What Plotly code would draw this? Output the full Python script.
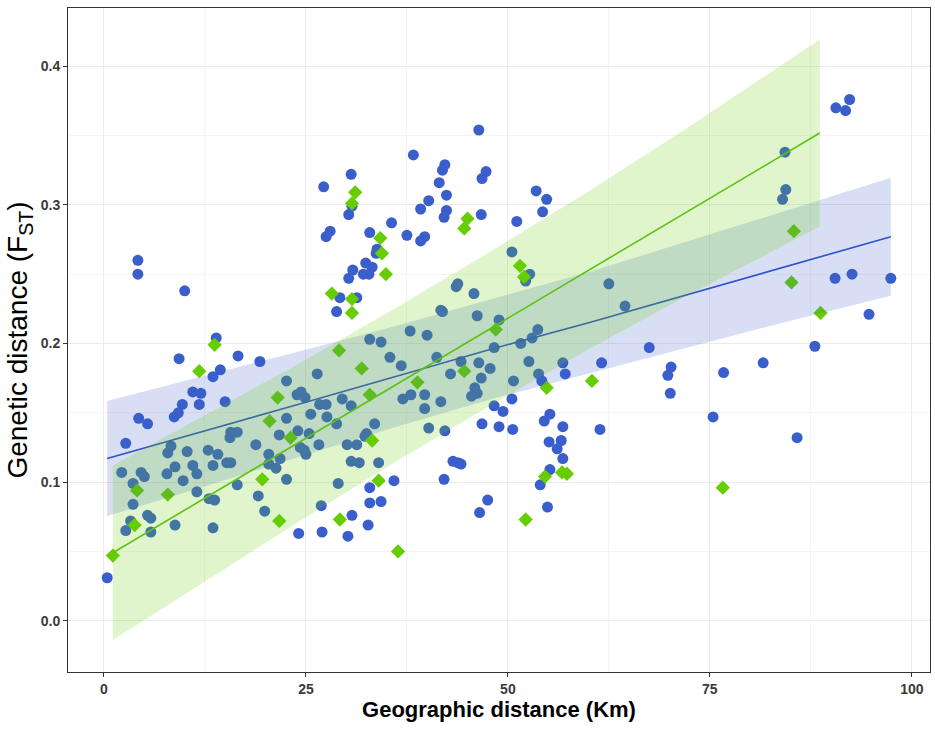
import plotly.graph_objects as go

# ---- data ----
blue_x = [0.4, 2.2, 2.7, 2.7, 3.3, 3.6, 3.6, 4.2, 4.2, 4.3, 4.6, 5.0, 5.4, 5.4, 5.8, 5.8,
          7.8, 7.9, 8.3, 8.7, 8.8, 8.8, 9.2, 9.3, 9.7, 9.8, 10.0, 10.3, 11.0, 11.0, 11.5, 11.5,
          11.8, 12.0, 12.9, 13.0, 13.5, 13.5, 13.5, 13.7, 13.9, 14.1, 14.4, 15.0, 15.2, 15.6,
          15.7, 15.7, 16.5, 16.5, 16.6, 18.8, 19.1, 19.3, 19.9, 20.4, 20.4, 21.3, 21.7, 21.8,
          22.6, 22.6, 22.6, 23.9, 24.0, 24.1, 24.3, 24.4, 24.8, 24.9, 25.0, 25.4, 25.6, 26.4,
          26.6, 26.7, 26.9, 27.0, 27.2, 27.5, 27.5, 27.6, 28.0, 28.8, 28.8, 29.0, 29.2, 29.5,
          30.1, 30.2, 30.3, 30.3, 30.6, 30.6, 30.6, 30.7, 30.7, 30.8, 31.3, 31.3, 31.6, 32.1,
          32.3, 32.4, 32.5, 32.7, 32.8, 32.9, 32.9, 32.9, 32.9, 33.2, 33.5, 33.7, 33.8, 34.0,
          34.3, 34.3, 35.4, 35.6, 35.9, 36.8, 37.0, 37.5, 37.9, 38.0, 38.3, 39.2, 39.2, 39.7,
          39.7, 39.7, 40.0, 40.2, 40.2, 41.2, 41.5, 41.7, 41.7, 41.9, 41.9, 42.1, 42.1, 42.2,
          42.2, 42.4, 42.4, 42.9, 43.2, 43.6, 43.8, 43.8, 44.2, 44.2, 45.5, 45.8, 45.9, 46.2,
          46.2, 46.4, 46.4, 46.5, 46.7, 46.7, 46.8, 46.8, 47.3, 47.5, 47.8, 48.3, 48.3, 48.9,
          48.9, 49.4, 50.5, 50.5, 50.6, 50.7, 51.1, 51.6, 52.2, 52.6, 52.7, 53.0, 53.5, 53.7,
          53.8, 54.0, 54.2, 54.3, 54.5, 54.8, 54.9, 55.1, 55.2, 55.2, 56.1, 56.6, 56.8, 56.8,
          56.8, 57.1, 61.4, 61.6, 62.5, 64.5, 67.5, 69.8, 70.1, 70.2, 75.4, 76.7, 81.6, 84.0,
          84.3, 84.4, 85.8, 88.0, 90.5, 90.6, 91.8, 92.3, 92.6, 94.7, 97.4]
blue_y = [0.031, 0.107, 0.128, 0.065, 0.072, 0.099, 0.084, 0.260, 0.250, 0.146, 0.107, 0.104,
          0.142, 0.076, 0.074, 0.064, 0.106, 0.121, 0.126, 0.147, 0.111, 0.069, 0.150, 0.189,
          0.156, 0.101, 0.238, 0.122, 0.165, 0.112, 0.106, 0.093, 0.156, 0.164, 0.123, 0.088,
          0.176, 0.112, 0.067, 0.087, 0.204, 0.120, 0.181, 0.158, 0.114, 0.132, 0.136, 0.114,
          0.136, 0.098, 0.191, 0.127, 0.090, 0.187, 0.079, 0.120, 0.113, 0.110, 0.134, 0.117,
          0.173, 0.146, 0.102, 0.163, 0.137, 0.063, 0.125, 0.165, 0.123, 0.161, 0.120, 0.135,
          0.149, 0.178, 0.127, 0.156, 0.083, 0.064, 0.313, 0.277, 0.156, 0.147, 0.281, 0.223,
          0.142, 0.099, 0.233, 0.160, 0.127, 0.061, 0.293, 0.247, 0.322, 0.155, 0.115, 0.299,
          0.076, 0.253, 0.233, 0.127, 0.114, 0.250, 0.133, 0.258, 0.135, 0.069, 0.250, 0.280,
          0.203, 0.096, 0.085, 0.255, 0.142, 0.265, 0.268, 0.114, 0.201, 0.086, 0.190, 0.287,
          0.101, 0.184, 0.160, 0.278, 0.209, 0.163, 0.336, 0.297, 0.274, 0.277, 0.163, 0.153,
          0.206, 0.303, 0.139, 0.190, 0.316, 0.224, 0.158, 0.325, 0.223, 0.291, 0.102, 0.329,
          0.137, 0.307, 0.296, 0.178, 0.115, 0.241, 0.243, 0.114, 0.187, 0.113, 0.162, 0.236,
          0.168, 0.220, 0.164, 0.354, 0.186, 0.078, 0.293, 0.175, 0.319, 0.142, 0.324, 0.087,
          0.182, 0.197, 0.155, 0.217, 0.140, 0.151, 0.266, 0.160, 0.138, 0.173, 0.288, 0.200,
          0.245, 0.187, 0.250, 0.204, 0.310, 0.210, 0.178, 0.098, 0.173, 0.295, 0.144, 0.304,
          0.082, 0.129, 0.149, 0.109, 0.124, 0.130, 0.186, 0.140, 0.117, 0.178, 0.138, 0.186,
          0.243, 0.227, 0.197, 0.177, 0.164, 0.183, 0.147, 0.179, 0.186, 0.304, 0.338, 0.311,
          0.132, 0.198, 0.247, 0.370, 0.368, 0.376, 0.250, 0.221, 0.247]

green_x = [1.1, 3.8, 4.1, 7.9, 11.8, 13.7, 19.6, 20.5, 21.5, 21.7, 23.1, 28.2, 29.1, 29.2,
           30.7, 30.7, 30.7, 31.1, 31.9, 32.9, 33.2, 34.0, 34.2, 34.4, 34.9, 36.4, 38.8, 44.6,
           44.6, 45.0, 48.5, 51.5, 52.0, 52.2, 54.6, 54.8, 56.7, 57.3, 60.4, 76.6, 85.1, 85.4, 88.7]
green_y = [0.047, 0.069, 0.094, 0.091, 0.180, 0.199, 0.102, 0.144, 0.161, 0.072, 0.132, 0.236,
           0.195, 0.073, 0.232, 0.222, 0.301, 0.309, 0.182, 0.163, 0.130, 0.101, 0.276, 0.265,
           0.250, 0.050, 0.172, 0.180, 0.283, 0.290, 0.210, 0.256, 0.248, 0.073, 0.104, 0.168,
           0.107, 0.106, 0.173, 0.096, 0.244, 0.281, 0.222]

# fitted lines and confidence bands
blue_fit_x = [0.4, 12, 24, 36, 48, 60, 72, 84, 97.4]
blue_fit_y = [0.117, 0.136, 0.156, 0.176, 0.196, 0.215, 0.235, 0.255, 0.277]
blue_lo = [0.0755, 0.096, 0.118, 0.1395, 0.160, 0.1785, 0.197, 0.215, 0.2345]
blue_hi = [0.1585, 0.176, 0.194, 0.2125, 0.232, 0.2515, 0.273, 0.295, 0.3195]

green_fit_x = [1.1, 12, 24, 36, 48, 60, 72, 88.6]
green_fit_y = [0.049, 0.0867, 0.128, 0.1698, 0.2113, 0.2528, 0.2943, 0.3518]
green_lo = [-0.014, 0.0267, 0.071, 0.1143, 0.1558, 0.1958, 0.2338, 0.2843]
green_hi = [0.112, 0.1467, 0.185, 0.2253, 0.2668, 0.3098, 0.3548, 0.4193]

x_ticks = [0, 25, 50, 75, 100]
y_ticks = [0.0, 0.1, 0.2, 0.3, 0.4]

BLUE = "#3A5FCD"
GREEN = "#66CD00"

fig = go.Figure()
fig.add_trace(go.Scatter(x=blue_x, y=blue_y, mode="markers",
                         marker=dict(symbol="circle", size=11, color=BLUE),
                         showlegend=False))
fig.add_trace(go.Scatter(x=green_x, y=green_y, mode="markers",
                         marker=dict(symbol="diamond", size=11, color=GREEN),
                         showlegend=False))

for fx, fy, lo, hi, col, rgba in [
        (blue_fit_x, blue_fit_y, blue_lo, blue_hi, "#2F52C8", "rgba(58,95,205,0.2)"),
        (green_fit_x, green_fit_y, green_lo, green_hi, "#5CC214", "rgba(102,205,0,0.2)")]:
    fig.add_trace(go.Scatter(x=fx + fx[::-1], y=lo + hi[::-1], mode="lines",
                             fill="toself", fillcolor=rgba, line=dict(width=0),
                             hoverinfo="skip", showlegend=False))
    fig.add_trace(go.Scatter(x=fx, y=fy, mode="lines", line=dict(color=col, width=1.6),
                             showlegend=False))

axis_common = dict(showline=True, linecolor="#333333", linewidth=1, mirror=True,
                   zeroline=False, ticks="outside", ticklen=4, tickcolor="#333333",
                   showgrid=True, gridcolor="#EBEBEB", gridwidth=1,
                   tickfont=dict(family="Liberation Sans, Arial", size=14, color="#3a3a3a",
                                 weight="bold"))

fig.update_layout(
    width=935, height=730,
    margin=dict(l=68, r=5, t=8, b=58),
    paper_bgcolor="white", plot_bgcolor="white",
    font=dict(family="Liberation Sans, Arial"),
    xaxis=dict(range=[-4.45, 102.25], tickvals=x_ticks,
               minor=dict(dtick=12.5, tick0=0, showgrid=True, gridcolor="#F4F4F4", gridwidth=1, ticks=""),
               title=dict(text="<b>Geographic distance (Km)</b>", standoff=4,
                          font=dict(size=22, color="black")),
               **axis_common),
    yaxis=dict(range=[-0.037, 0.442], tickvals=y_ticks, tickformat=".1f",
               minor=dict(dtick=0.05, tick0=0, showgrid=True, gridcolor="#F4F4F4", gridwidth=1, ticks=""),
               title=dict(text="Genetic distance (F<sub>ST</sub>)", standoff=4,
                          font=dict(size=28, color="black")),
               **axis_common),
)
fig.update_xaxes(automargin=False)
fig.update_yaxes(automargin=False)

fig.write_html("out.html")
